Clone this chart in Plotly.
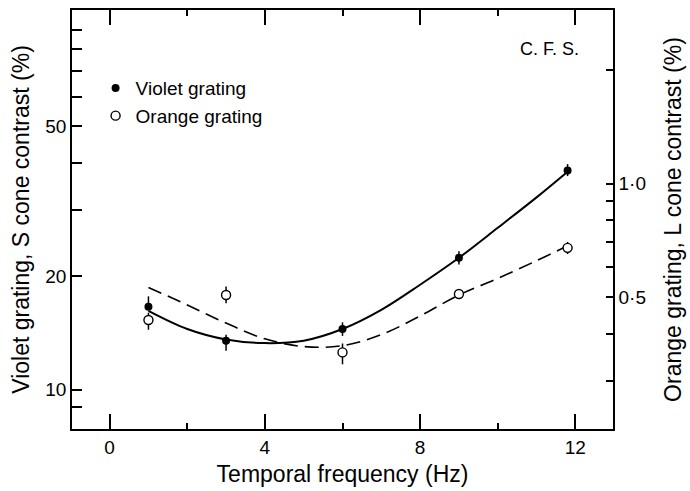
import plotly.graph_objects as go

# Measured detection thresholds (violet grating: S cone contrast %, left axis;
# orange grating: L cone contrast %, right axis)
freq = [1, 3, 6, 9, 11.8]
violet = [16.6, 13.5, 14.5, 22.4, 38.2]
violet_err_plus = [1.1, 0.5, 0.6, 0.9, 1.5]
violet_err_minus = [0.3, 0.8, 0.6, 0.9, 1.3]
orange = [0.435, 0.507, 0.357, 0.510, 0.676]
orange_err_plus = [0.02, 0.027, 0.02, 0.015, 0.025]
orange_err_minus = [0.025, 0.025, 0.025, 0.015, 0.025]

# Smooth fitted curves
fit_freq = [1, 2, 3, 4, 5, 6, 7, 8, 9, 10, 11, 11.8]
violet_fit = [16.2, 14.5, 13.6, 13.3, 13.5, 14.5, 16.3, 19.0, 22.4, 26.9, 32.4, 37.9]
orange_fit = [0.531, 0.477, 0.427, 0.388, 0.370, 0.372, 0.398, 0.446, 0.507, 0.561, 0.625, 0.685]

# Axis ticks
x_major = [0, 4, 8, 12]
x_minor = [2, 6, 10]
left_major = [10, 20, 50]
left_minor = [9, 30, 40, 60, 70, 80, 90]
right_major = [0.5, 1.0]
right_major_text = ["0·5", "1·0"]
right_minor = [0.3, 0.4, 0.6, 0.7, 0.8, 0.9, 2.0]

FONT = "Liberation Sans"
LW = 1.5
left_range = [0.896, 2.0077]
right_range = [-0.6505, 0.4609]

fig = go.Figure()

fig.add_trace(go.Scatter(
    x=fit_freq, y=violet_fit, mode="lines", line=dict(color="black", width=2, shape="spline"),
    showlegend=False, yaxis="y", hoverinfo="skip"))
fig.add_trace(go.Scatter(
    x=fit_freq, y=orange_fit, mode="lines",
    line=dict(color="black", width=1.6, shape="spline", dash="14px,7px"),
    showlegend=False, yaxis="y2", hoverinfo="skip"))

fig.add_trace(go.Scatter(
    x=freq, y=violet, mode="markers", name="Violet grating", yaxis="y",
    marker=dict(symbol="circle", size=8, color="black"),
    error_y=dict(type="data", array=violet_err_plus, arrayminus=violet_err_minus,
                 color="black", thickness=1.5, width=0)))
fig.add_trace(go.Scatter(
    x=freq, y=orange, mode="markers", name="Orange grating", yaxis="y2",
    marker=dict(symbol="circle", size=9, color="white", line=dict(color="black", width=1.4)),
    error_y=dict(type="data", array=orange_err_plus, arrayminus=orange_err_minus,
                 color="black", thickness=1.5, width=0)))

tickfont = dict(family=FONT, size=19, color="black")
titlefont = dict(family=FONT, size=23, color="black")

fig.update_layout(
    width=690, height=491,
    margin=dict(l=72, r=74, t=8, b=58),
    paper_bgcolor="white", plot_bgcolor="white",
    font=dict(family=FONT, color="black"),
    xaxis=dict(
        range=[-0.97, 12.97], showgrid=False, zeroline=False,
        showline=True, linecolor="black", linewidth=LW, mirror="ticks",
        tickvals=x_major, ticktext=[str(v) for v in x_major],
        ticks="inside", ticklen=15, tickwidth=LW, tickcolor="black",
        tickfont=tickfont,
        minor=dict(tickvals=x_minor, ticks="inside", ticklen=6, tickwidth=LW, tickcolor="black"),
        title=dict(text="Temporal frequency (Hz)", font=titlefont, standoff=9),
    ),
    yaxis=dict(
        type="log", range=left_range, showgrid=False, zeroline=False,
        showline=True, linecolor="black", linewidth=LW, mirror=False,
        tickvals=left_major, ticktext=[str(v) for v in left_major],
        ticks="inside", ticklen=10, tickwidth=LW, tickcolor="black",
        tickfont=tickfont,
        minor=dict(tickvals=left_minor, ticks="inside", ticklen=10, tickwidth=LW, tickcolor="black"),
        title=dict(text="Violet grating, S cone contrast (%)", font=titlefont, standoff=9),
    ),
    yaxis2=dict(
        type="log", range=right_range, overlaying="y", side="right",
        showgrid=False, zeroline=False,
        showline=True, linecolor="black", linewidth=LW,
        tickvals=right_major, ticktext=right_major_text,
        ticks="inside", ticklen=7, tickwidth=LW, tickcolor="black",
        tickfont=tickfont,
        minor=dict(tickvals=right_minor, ticks="inside", ticklen=7, tickwidth=LW, tickcolor="black"),
        title=dict(text="Orange grating, L cone contrast (%)", font=titlefont, standoff=20),
    ),
    # long reference ticks at 10 (left) and 1·0 (right)
    yaxis3=dict(
        type="log", range=left_range, overlaying="y", side="left",
        showgrid=False, zeroline=False, showline=False,
        tickvals=[10], showticklabels=False,
        ticks="inside", ticklen=23, tickwidth=LW, tickcolor="black",
    ),
    yaxis4=dict(
        type="log", range=right_range, overlaying="y", side="right",
        showgrid=False, zeroline=False, showline=False,
        tickvals=[1.0], showticklabels=False,
        ticks="inside", ticklen=22, tickwidth=LW, tickcolor="black",
    ),
    legend=dict(
        x=0.0436, y=0.859, xanchor="left", yanchor="top",
        bgcolor="rgba(0,0,0,0)", font=dict(family=FONT, size=19, color="black"),
        itemsizing="trace",
    ),
    annotations=[dict(
        text="C. F. S.", xref="paper", yref="paper", x=0.883, y=0.907,
        xanchor="center", yanchor="middle", showarrow=False,
        font=dict(family=FONT, size=18, color="black"),
    )],
)

fig.write_html("out.html")
